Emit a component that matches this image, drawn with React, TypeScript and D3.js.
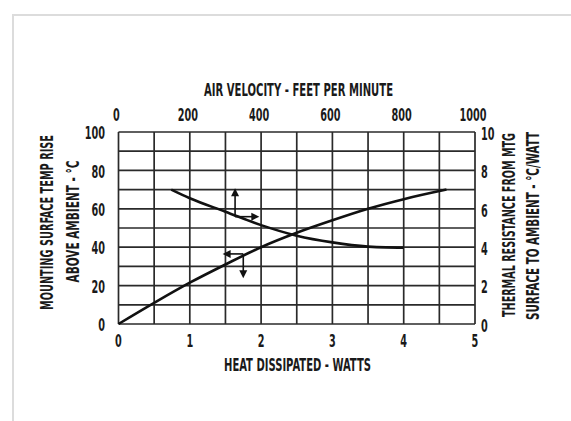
import React from "react";
import * as d3 from "d3";

// ---- data ----
const wattTicks = [0, 1, 2, 3, 4, 5];
const velocityTicks = [0, 200, 400, 600, 800, 1000];
const tempTicks = [0, 20, 40, 60, 80, 100];
const resistTicks = [0, 2, 4, 6, 8, 10];

// temperature rise (°C) vs heat dissipated (W)
const riseWatts = [0, 0.5, 1, 1.5, 2, 2.5, 3, 3.5, 4, 4.6];
const riseTemp = [0, 11, 21.5, 31, 40, 47.5, 54, 60, 65, 70];

// thermal resistance (°C/W) vs air velocity (ft/min)
const resVelocity = [148, 200, 300, 400, 500, 600, 700, 750, 800];
const resValue = [7.0, 6.55, 5.85, 5.15, 4.6, 4.25, 4.03, 3.99, 3.98];

// annotation arrows
const upArrowBase = [327, 5.59]; // velocity, resistance
const upArrowTop = 7.07;
const upArrowRight = 395;
const downArrowBase = [1.75, 36.5]; // watts, temp
const downArrowLeft = 1.46;
const downArrowBottom = 23.8;

const topTitle = "AIR VELOCITY - FEET PER MINUTE";
const bottomTitle = "HEAT DISSIPATED - WATTS";
const leftTitle1 = "MOUNTING SURFACE TEMP RISE";
const leftTitle2 = "ABOVE AMBIENT - °C";
const rightTitle1 = "THERMAL RESISTANCE FROM MTG";
const rightTitle2 = "SURFACE TO AMBIENT - °C/WATT";

const W = 571;
const H = 421;
const L = 118.5;
const R = 475;
const T = 132;
const B = 324;

const FONT = "'DejaVu Sans Condensed', 'Liberation Sans Narrow', 'DejaVu Sans', sans-serif";
const FS = 18;
const CAP = 12.5;
const INK = "#1a1a1a";
const GRID = "#2a2a2a";

const xW = d3.scaleLinear().domain([0, 5]).range([L, R]);
const xV = d3.scaleLinear().domain([0, 1000]).range([L, R]);
const yT = d3.scaleLinear().domain([0, 100]).range([B, T]);
const yR = d3.scaleLinear().domain([0, 10]).range([B, T]);

function Num({ x, y, text, anchor = "middle" }: { x: number; y: number; text: string; anchor?: string }) {
  return (
    <text
      transform={`translate(${x},${y}) scale(0.6,1)`}
      textAnchor={anchor}
      fontFamily={FONT}
      fontSize={FS}
      fontWeight={600}
      fill={INK}
    >
      {text}
    </text>
  );
}

function Title({ x, y, text, len, rotate = 0 }: { x: number; y: number; text: string; len: number; rotate?: number }) {
  return (
    <text
      transform={`translate(${x},${y}) rotate(${rotate})`}
      textAnchor="middle"
      fontFamily={FONT}
      fontSize={FS}
      fontWeight={600}
      fill={INK}
      textLength={len}
      lengthAdjust="spacingAndGlyphs"
    >
      {text}
    </text>
  );
}

function arrowHead(tipX: number, tipY: number, dir: "up" | "down" | "left" | "right") {
  const len = 8;
  const half = 4;
  let pts: [number, number][] = [];
  if (dir === "up") pts = [[tipX, tipY], [tipX - half, tipY + len], [tipX + half, tipY + len]];
  if (dir === "down") pts = [[tipX, tipY], [tipX - half, tipY - len], [tipX + half, tipY - len]];
  if (dir === "left") pts = [[tipX, tipY], [tipX + len, tipY - half], [tipX + len, tipY + half]];
  if (dir === "right") pts = [[tipX, tipY], [tipX - len, tipY - half], [tipX - len, tipY + half]];
  return pts.map((p) => p.join(",")).join(" ");
}

export default function App() {
  const riseLine = d3
    .line<number>()
    .x((_, i) => xW(riseWatts[i]))
    .y((d) => yT(d))
    .curve(d3.curveMonotoneX)(riseTemp) as string;
  const resLine = d3
    .line<number>()
    .x((_, i) => xV(resVelocity[i]))
    .y((d) => yR(d))
    .curve(d3.curveMonotoneX)(resValue) as string;

  const vLines = d3.range(0, 5.01, 0.5);
  const hLines = d3.range(0, 100.1, 10);

  const ux = xV(upArrowBase[0]);
  const uy = yR(upArrowBase[1]);
  const uTop = yR(upArrowTop);
  const uRight = xV(upArrowRight);
  const dx = xW(downArrowBase[0]);
  const dy = yT(downArrowBase[1]);
  const dLeft = xW(downArrowLeft);
  const dBottom = yT(downArrowBottom);

  return (
    <div style={{ position: "absolute", left: 0, top: 0 }}>
      <svg width={W} height={H} style={{ display: "block", background: "#fff" }}>
        {/* light frame */}
        <line x1={12} y1={15} x2={W} y2={15} stroke="#dcdcdc" strokeWidth={2} />
        <line x1={13} y1={14} x2={13} y2={H} stroke="#dcdcdc" strokeWidth={2} />

        {/* grid */}
        {vLines.map((v) => (
          <line key={"v" + v} x1={xW(v)} x2={xW(v)} y1={T} y2={B} stroke={GRID} strokeWidth={1.7} />
        ))}
        {hLines.map((v) => (
          <line key={"h" + v} x1={L} x2={R} y1={yT(v)} y2={yT(v)} stroke={GRID} strokeWidth={1.7} />
        ))}

        {/* curves */}
        <path d={riseLine} fill="none" stroke="#111" strokeWidth={2.6} />
        <path d={resLine} fill="none" stroke="#111" strokeWidth={2.6} />

        {/* arrows */}
        <g stroke="#111" strokeWidth={1.6} fill="#111">
          <line x1={ux} y1={uy} x2={ux} y2={uTop + 6} />
          <line x1={ux} y1={uy} x2={uRight - 6} y2={uy} />
          <line x1={dx} y1={dy} x2={dLeft + 6} y2={dy} />
          <line x1={dx} y1={dy} x2={dx} y2={dBottom - 6} />
        </g>
        <g fill="#111">
          <polygon points={arrowHead(ux, uTop, "up")} />
          <polygon points={arrowHead(uRight, uy, "right")} />
          <polygon points={arrowHead(dLeft, dy, "left")} />
          <polygon points={arrowHead(dx, dBottom, "down")} />
        </g>

        {/* tick labels */}
        {velocityTicks.map((v) => (
          <Num key={"tv" + v} x={xV(v) - 2} y={120.5} text={String(v)} />
        ))}
        {wattTicks.map((v) => (
          <Num key={"tw" + v} x={xW(v)} y={346.5} text={String(v)} />
        ))}
        {tempTicks.map((v) => (
          <Num key={"tt" + v} x={105} y={yT(v) + CAP / 2 + 1} text={String(v)} anchor="end" />
        ))}
        {resistTicks.map((v) => (
          <Num key={"tr" + v} x={481} y={yR(v) + CAP / 2 + 1.5} text={String(v)} anchor="start" />
        ))}

        {/* titles */}
        <Title x={298.5} y={95.5} text={topTitle} len={189} />
        <Title x={297.5} y={370.5} text={bottomTitle} len={147} />
        <Title x={47 + CAP / 2} y={222.5} text={leftTitle1} len={175} rotate={-90} />
        <Title x={72.5 + CAP / 2} y={221.5} text={leftTitle2} len={122} rotate={-90} />
        <Title x={509 + CAP / 2} y={225} text={rightTitle1} len={184} rotate={-90} />
        <Title x={533 + CAP / 2} y={226} text={rightTitle2} len={188} rotate={-90} />
      </svg>
    </div>
  );
}
